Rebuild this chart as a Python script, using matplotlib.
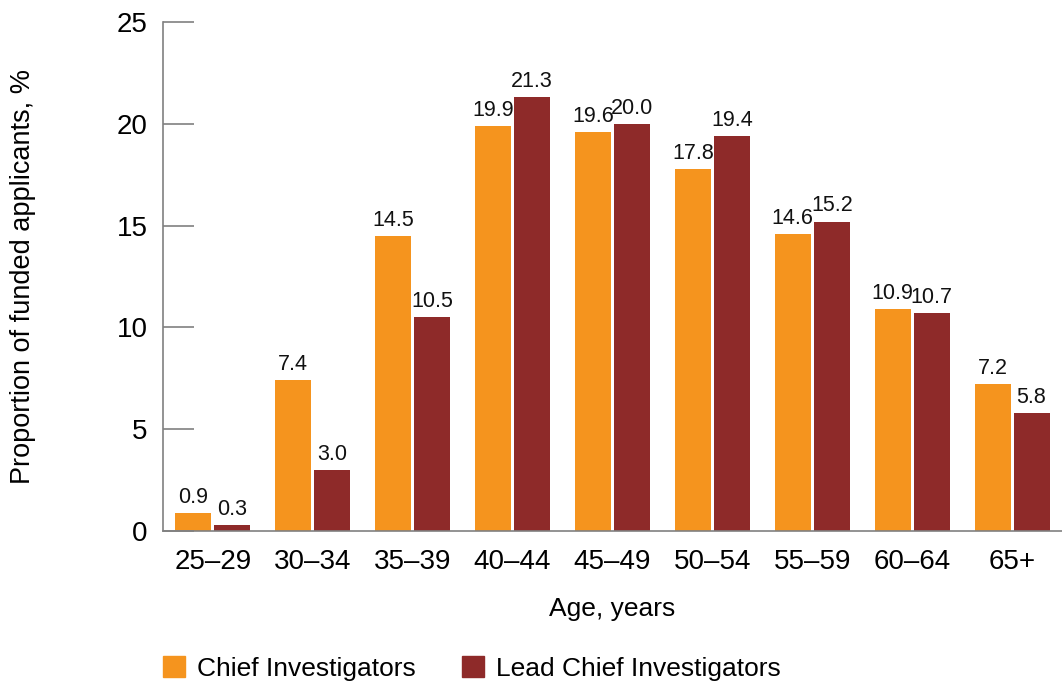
import matplotlib.pyplot as plt
import matplotlib.patches as mpatches
import numpy as np

plt.rcParams['font.family'] = ['Liberation Sans', 'DejaVu Sans']

ages = ['25–29', '30–34', '35–39', '40–44', '45–49', '50–54', '55–59', '60–64', '65+']
chief = [0.9, 7.4, 14.5, 19.9, 19.6, 17.8, 14.6, 10.9, 7.2]
lead = [0.3, 3.0, 10.5, 21.3, 20.0, 19.4, 15.2, 10.7, 5.8]

orange = '#F5941E'
darkred = '#8E2A29'
grey = '#808080'

fig = plt.figure(figsize=(10.62, 6.84), dpi=100)
ax = fig.add_axes([163 / 1062, 1 - 531 / 684, 1 - 163 / 1062, (531 - 22) / 684])

x = np.arange(len(ages))
w = 0.36
b1 = ax.bar(x - 0.195, chief, w, color=orange)
b2 = ax.bar(x + 0.195, lead, w, color=darkred)

for bars, vals in ((b1, chief), (b2, lead)):
    for r, v in zip(bars, vals):
        ax.text(r.get_x() + r.get_width() / 2, v + 0.25, '%.1f' % v,
                ha='center', va='bottom', fontsize=15.5, color='#111111')

ax.set_xlim(-0.5, len(ages) - 0.5)
ax.set_ylim(0, 25)
ax.set_yticks([0, 5, 10, 15, 20, 25])
ax.set_xticks(x)
ax.set_xticklabels(ages)

for s in ('top', 'right'):
    ax.spines[s].set_visible(False)
for s in ('left', 'bottom'):
    ax.spines[s].set_color(grey)
    ax.spines[s].set_linewidth(1.2)

ax.tick_params(axis='y', direction='in', length=22, width=1.2, color=grey,
               labelsize=20, pad=11)
ax.tick_params(axis='x', length=0, labelsize=20, pad=13)

ax.set_xlabel('Age, years', fontsize=19, labelpad=16)
ax.set_ylabel('Proportion of funded applicants, %', fontsize=19.5, labelpad=58)

handles = [mpatches.Patch(color=orange, label='Chief Investigators'),
           mpatches.Patch(color=darkred, label='Lead Chief Investigators')]
fig.legend(handles=handles, loc='lower left', bbox_to_anchor=(139 / 1062, -0.03),
           ncol=2, frameon=False, fontsize=19, handlelength=0.85, handleheight=0.85,
           handletextpad=0.45, columnspacing=1.75)

plt.savefig('out.png', dpi=100)
